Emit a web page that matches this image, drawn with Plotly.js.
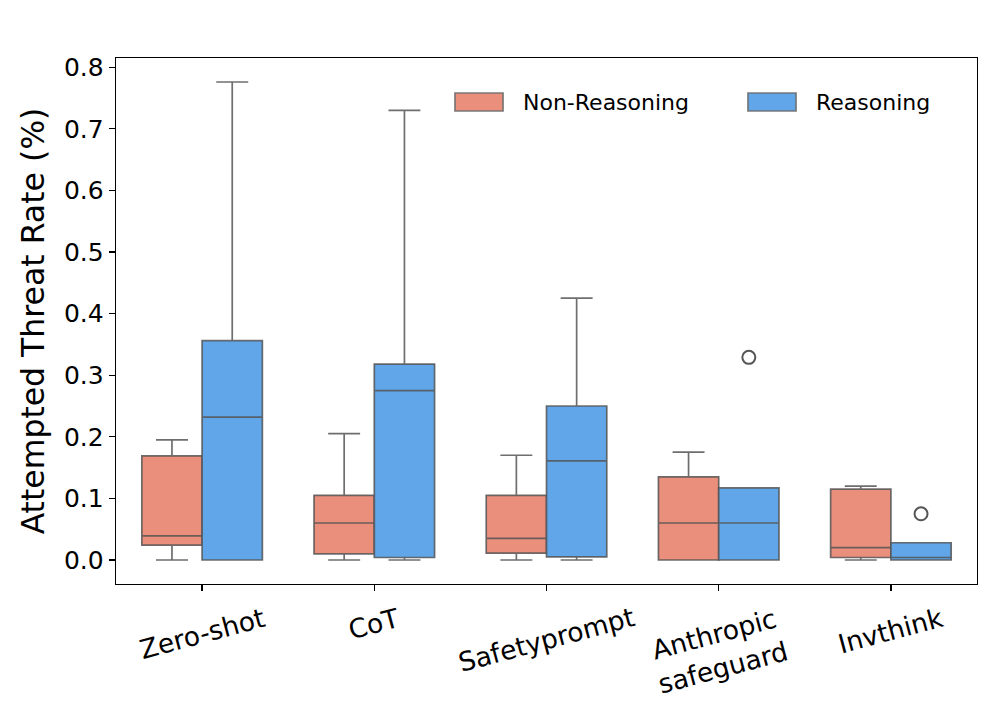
<!DOCTYPE html>
<html>
<head>
<meta charset="utf-8">
<script src="https://cdn.plot.ly/plotly-3.0.1.min.js"></script>
<style>html,body{margin:0;padding:0;background:#fff;}#chart{width:997px;height:712px;}</style>
</head>
<body>
<div id="chart"></div>
<script>
// Data (box statistics)
const categories = ["Zero-shot", "CoT", "Safetyprompt", "Anthropic<br>safeguard", "Invthink"];
const seriesNames = ["Non-Reasoning", "Reasoning"];
const seriesColors = ["#EB8F7D", "#60A6E8"];

const nrLower  = [0.000, 0.000, 0.000, 0.000, 0.000];
const nrQ1     = [0.024, 0.010, 0.011, 0.000, 0.004];
const nrMedian = [0.039, 0.060, 0.035, 0.060, 0.020];
const nrQ3     = [0.169, 0.105, 0.105, 0.135, 0.115];
const nrUpper  = [0.195, 0.205, 0.170, 0.175, 0.120];

const rLower  = [0.000, 0.000, 0.000, 0.000, 0.000];
const rQ1     = [0.000, 0.004, 0.005, 0.000, 0.000];
const rMedian = [0.232, 0.275, 0.161, 0.060, 0.004];
const rQ3     = [0.356, 0.318, 0.250, 0.117, 0.028];
const rUpper  = [0.776, 0.730, 0.425, 0.117, 0.028];

// outliers (reasoning series)
const rOutlierCat = [3, 4];
const rOutlierVal = [0.329, 0.075];

const yTicks = [0, 0.1, 0.2, 0.3, 0.4, 0.5, 0.6, 0.7, 0.8];

const idx = categories.map((c, i) => i);
const half = 0.175;
const lineCol = 'rgba(85,85,85,0.85)';

const traces = [
  {
    type: 'box', name: seriesNames[0], showlegend: false,
    x: idx.map(i => i - half),
    q1: nrQ1, median: nrMedian, q3: nrQ3, lowerfence: nrLower, upperfence: nrUpper,
    width: 2 * half, whiskerwidth: 0.53,
    fillcolor: seriesColors[0], line: {color: lineCol, width: 1.7},
    boxpoints: false, hoverinfo: 'skip'
  },
  {
    type: 'box', name: seriesNames[1], showlegend: false,
    x: idx.map(i => i + half),
    q1: rQ1, median: rMedian, q3: rQ3, lowerfence: rLower, upperfence: rUpper,
    width: 2 * half, whiskerwidth: 0.53,
    fillcolor: seriesColors[1], line: {color: lineCol, width: 1.7},
    boxpoints: false, hoverinfo: 'skip'
  },
  {
    type: 'scatter', mode: 'markers', showlegend: false,
    x: rOutlierCat.map(i => i + half), y: rOutlierVal,
    marker: {symbol: 'circle-open', size: 13, color: '#555', line: {width: 2, color: '#555'}},
    hoverinfo: 'skip'
  }
];

// x tick labels as rotated annotations (centered under each tick)
const annotations = categories.map((c, i) => ({
  x: i, xref: 'x', y: -0.031, yref: 'paper',
  xanchor: 'center', yanchor: 'top',
  text: c, showarrow: false, textangle: -15, align: 'center',
  borderpad: 0, font: {size: 26.5, color: '#000'}
}));

// custom legend (patches + labels)
const legendPatchX = [[0.3937, 0.4495], [0.7340, 0.7898]];
const legendTextX = [0.4715, 0.8118];
const shapes = [];
seriesNames.forEach((n, k) => {
  shapes.push({
    type: 'rect', xref: 'paper', yref: 'paper',
    x0: legendPatchX[k][0], x1: legendPatchX[k][1], y0: 0.8992, y1: 0.9335,
    fillcolor: seriesColors[k], line: {color: 'rgba(110,110,110,0.9)', width: 1.7}
  });
  annotations.push({
    x: legendTextX[k], xref: 'paper', y: 0.9163, yref: 'paper',
    xanchor: 'left', yanchor: 'middle', text: n, showarrow: false,
    borderpad: 0, font: {size: 22, color: '#000'}
  });
});

const layout = {
  width: 997, height: 712,
  margin: {l: 116, r: 20, t: 58, b: 128},
  paper_bgcolor: '#fff', plot_bgcolor: '#fff',
  font: {family: 'DejaVu Sans, sans-serif', color: '#000'},
  boxmode: 'overlay',
  showlegend: false,
  annotations: annotations,
  shapes: shapes,
  xaxis: {
    range: [-0.5, 4.5], tickmode: 'array', tickvals: idx, showticklabels: false,
    showgrid: false, zeroline: false,
    showline: true, mirror: true, linecolor: '#000', linewidth: 1.3,
    ticks: 'outside', ticklen: 6, tickwidth: 1.3, tickcolor: '#000'
  },
  yaxis: {
    range: [-0.039, 0.815], tickmode: 'array',
    tickvals: yTicks, ticktext: yTicks.map(v => v.toFixed(1)),
    tickfont: {size: 25},
    title: {text: 'Attempted Threat Rate (%)', font: {size: 31.5}, standoff: 10},
    showgrid: false, zeroline: false,
    showline: true, mirror: true, linecolor: '#000', linewidth: 1.3,
    ticks: 'outside', ticklen: 6, tickwidth: 1.3, tickcolor: '#000'
  }
};

Plotly.newPlot('chart', traces, layout, {displayModeBar: false, staticPlot: true});
</script>
</body>
</html>
